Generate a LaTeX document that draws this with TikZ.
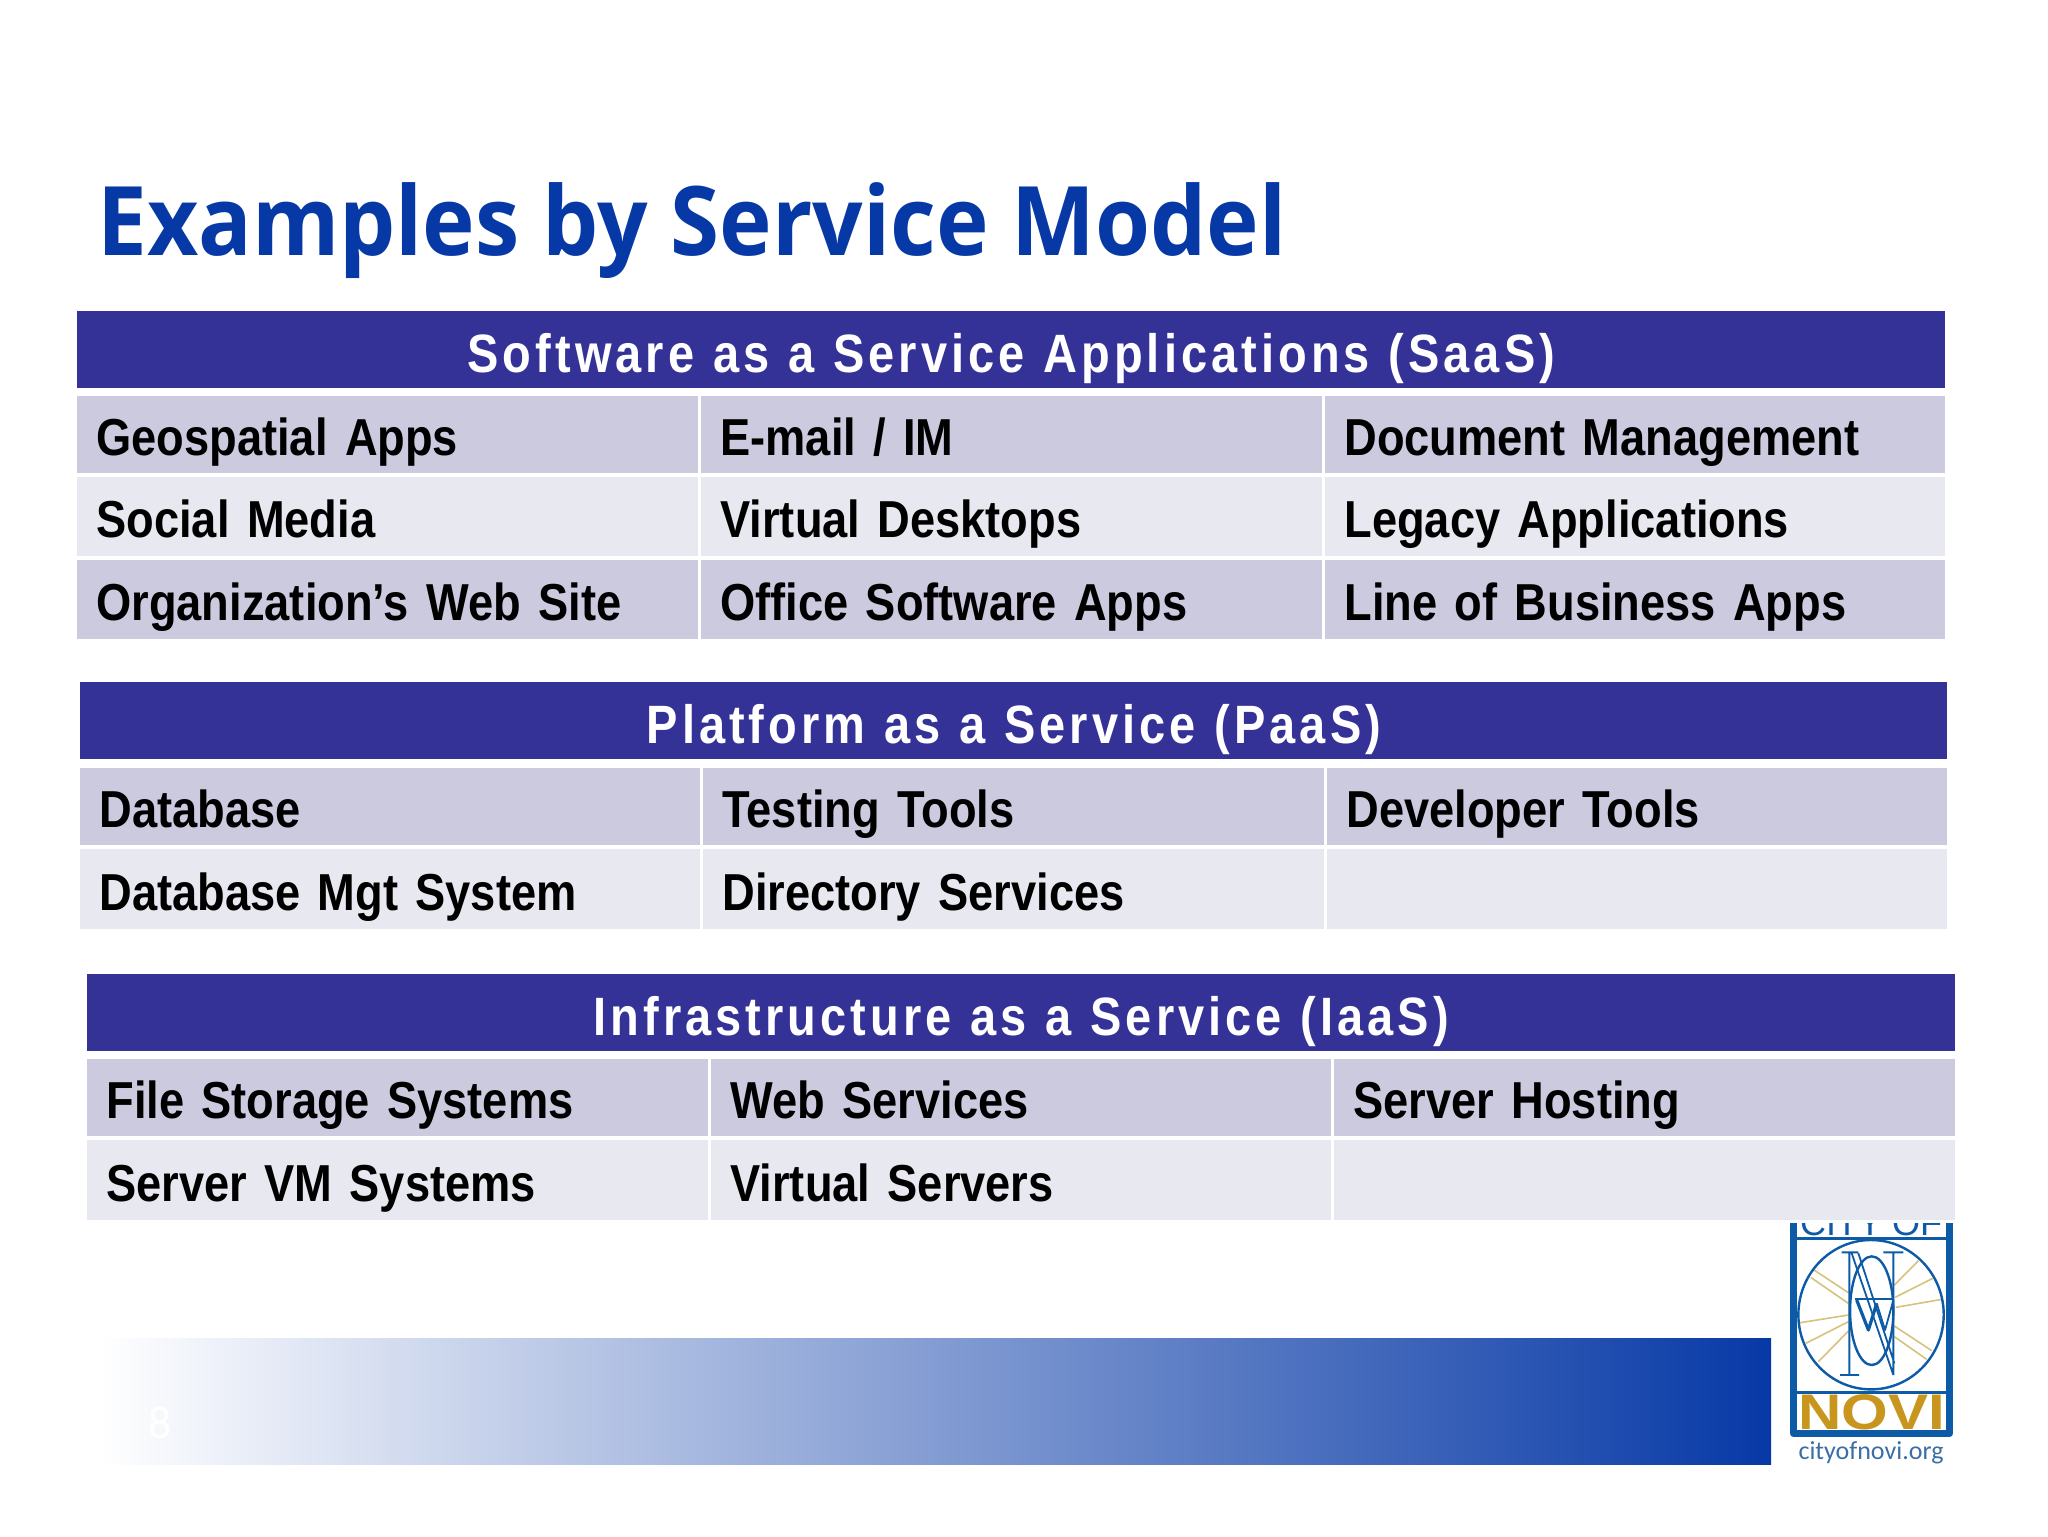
\documentclass[tikz,border=0pt]{standalone}
\usepackage{fontspec}
\setmainfont{Liberation Sans}
\newfontfamily\titlefont{Open Sans Bold}[FakeStretch=0.926]
\newfontfamily\cellfont{Liberation Sans Bold}[FakeStretch=0.87,WordSpace=0.6]
\newfontfamily\headfont{Liberation Sans Bold}[FakeStretch=0.87,LetterSpace=7.5,WordSpace=1.1]
\newfontfamily\logofont{Liberation Sans Bold}[FakeStretch=1.2]
\newfontfamily\pagefont{Carlito}
\usetikzlibrary{positioning}
\definecolor{barblue}{HTML}{353297}
\definecolor{rowdark}{HTML}{CCCADF}
\definecolor{rowlight}{HTML}{E8E8F0}
\definecolor{titleblue}{HTML}{0739A6}
\definecolor{logoblue}{HTML}{0D5AA7}
\definecolor{logotext}{HTML}{3A6EA5}
\definecolor{logogold}{HTML}{C8961E}
\definecolor{raygold}{HTML}{D6C27E}
\tikzset{
	headbar/.style={fill=barblue,text=white,inner sep=0pt,anchor=north west,font=\headfont\fontsize{27}{27}\selectfont,text height=25.5pt,text depth=3pt},
	cellbox/.style={inner sep=0pt,anchor=north west,align=left,font=\cellfont\fontsize{26}{26}\selectfont,text height=24.6pt,text depth=4pt},
}
% name, left, top, right, bottom, colour, text
\newcommand{\cellnode}[7]{%
	\node[cellbox,fill=#6,minimum width={(#4-#2)*0.5pt},minimum height={(#5-#3)*0.5pt},text width={(#4-#2-38)*0.5pt}] (#1) at (#2,#3) {#7};}
\newcommand{\headnode}[6]{%
	\node[headbar,minimum width={(#4-#2)*0.5pt},minimum height={(#5-#3)*0.5pt}] (#1) at (#2,#3) {#6};}
\begin{document}
\begin{tikzpicture}[x=0.5pt,y=-0.5pt,line join=round]
	\useasboundingbox (0,0) rectangle (2048,1536);
	\node[anchor=base west,inner sep=0pt,text=titleblue,font=\titlefont\fontsize{48}{48}\selectfont] (title) at (97,255) {Examples by Service Model};
	% SaaS
	\headnode{saas}{77}{311}{1945}{388}{Software as a Service Applications (SaaS)}
	\cellnode{saasA}{77}{396}{698}{473}{rowdark}{Geospatial Apps}
	\cellnode{saasB}{701}{396}{1322}{473}{rowdark}{E-mail / IM}
	\cellnode{saasC}{1325}{396}{1945}{473}{rowdark}{Document Management}
	\cellnode{saasD}{77}{477}{698}{556}{rowlight}{Social Media}
	\cellnode{saasE}{701}{477}{1322}{556}{rowlight}{Virtual Desktops}
	\cellnode{saasF}{1325}{477}{1945}{556}{rowlight}{Legacy Applications}
	\cellnode{saasG}{77}{560}{698}{639}{rowdark}{Organization’s Web Site}
	\cellnode{saasH}{701}{560}{1322}{639}{rowdark}{Office Software Apps}
	\cellnode{saasI}{1325}{560}{1945}{639}{rowdark}{Line of Business Apps}
	% PaaS
	\headnode{paas}{80}{682}{1947}{759}{Platform as a Service (PaaS)}
	\cellnode{paasA}{80}{768}{700}{845}{rowdark}{Database}
	\cellnode{paasB}{703}{768}{1324}{845}{rowdark}{Testing Tools}
	\cellnode{paasC}{1327}{768}{1947}{845}{rowdark}{Developer Tools}
	\cellnode{paasD}{80}{849}{700}{929}{rowlight}{Database Mgt System}
	\cellnode{paasE}{703}{849}{1324}{929}{rowlight}{Directory Services}
	\cellnode{paasF}{1327}{849}{1947}{929}{rowlight}{}
	% IaaS
	\headnode{iaas}{87}{974}{1955}{1051}{Infrastructure as a Service (IaaS)}
	\cellnode{iaasA}{87}{1059}{708}{1136}{rowdark}{File Storage Systems}
	\cellnode{iaasB}{711}{1059}{1331}{1136}{rowdark}{Web Services}
	\cellnode{iaasC}{1334}{1059}{1955}{1136}{rowdark}{Server Hosting}
	\cellnode{iaasD}{87}{1140}{708}{1220}{rowlight}{Server VM Systems}
	\cellnode{iaasE}{711}{1140}{1331}{1220}{rowlight}{Virtual Servers}
	\cellnode{iaasF}{1334}{1140}{1955}{1220}{rowlight}{}
	% footer band
	\shade[left color=white,right color=titleblue] (100,1338) rectangle (1771,1464);
	\node[text=white,inner sep=0pt,font=\pagefont\fontsize{23}{23}\selectfont] (pagenum) at (160,1423) {8};
	% logo
	\begin{scope}
		\clip (1780,1223) rectangle (1960,1445);
		\draw[logoblue,line width=3.5pt] (1793.5,1190) rectangle (1949.5,1433.5);
		\draw[logoblue,line width=1.5pt] (1795,1238) -- (1948,1238);
		\draw[logoblue,line width=1.5pt] (1795,1392) -- (1948,1392);
		\node[anchor=base,text=logoblue,font=\fontsize{18}{18}\selectfont,inner sep=0pt] (cityof) at (1871,1235) {CITY OF};
	\end{scope}
	\begin{scope}[shift={(1740,1200)},x=0.1667pt,y=-0.1667pt]
		\foreach \xa/\ya/\xb/\yb in {463/255/535/182,465/292/578/235,467/322/605/298,463/378/575/452,463/410/560/478,325/278/222/210,325/310/212/232,325/345/180/368,325/365/197/430,325/393/235/485}{
			\draw[raygold,line width=0.8pt] (\xa,\ya) -- (\xb,\yb);
		}
		\draw[logoblue,line width=1.2pt] (393,344) ellipse[x radius=218,y radius=224];
		\draw[logoblue,line width=1.2pt] (395,332) ellipse[x radius=65,y radius=163];
		\draw[logoblue,line width=0.9pt] (328,160) -- (328,525) (300,525) -- (357,525) (305,157) -- (355,157) (430,157) -- (490,157) (460,157) -- (460,525)
			(335,160) -- (460,525) (355,160) -- (463,490);
		\draw[logoblue,line width=0.9pt] (345,297) -- (460,297) (410,310) -- (435,390) -- (460,300);
		\draw[logoblue,line width=1.6pt] (350,300) -- (385,390) -- (410,310);
	\end{scope}
	\node[anchor=base,text=logogold,font=\logofont\fontsize{25}{25}\selectfont,inner sep=0pt] (novi) at (1871.5,1429) {NOVI};
	\node[text=logotext,font=\pagefont\fontsize{13}{13}\selectfont,inner sep=0pt] (cityorg) at (1871,1453) {cityofnovi.org};
\end{tikzpicture}
\end{document}
